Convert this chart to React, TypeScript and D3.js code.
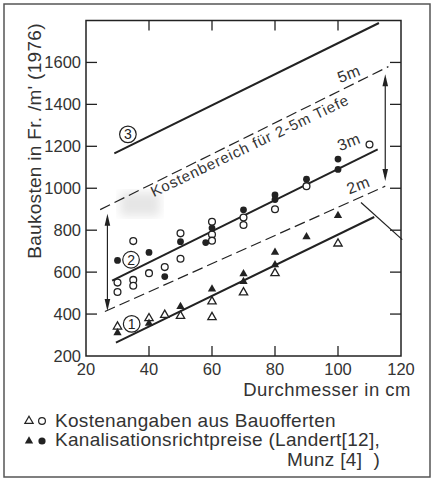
import { useEffect, useRef } from 'react';
import * as d3 from 'd3';

type Pt = [number, number];

// measured points (Durchmesser cm, Baukosten Fr./m')
const openCircles: Pt[] = [
  [30, 550], [30, 505], [35, 748], [35, 563], [35, 535], [40, 595], [45, 624],
  [50, 785], [50, 664], [60, 840], [60, 779], [60, 750], [70, 860], [70, 825],
  [80, 900], [90, 1010], [110, 1209],
];
const filledCircles: Pt[] = [
  [30, 656], [40, 694], [45, 579], [50, 745], [58, 741], [60, 810], [70, 897],
  [80, 968], [80, 946], [90, 1043], [100, 1139], [100, 1090],
];
const openTriangles: Pt[] = [
  [30, 340], [40, 380], [45, 396], [50, 391], [60, 460], [60, 385], [70, 503],
  [80, 595], [100, 736],
];
const filledTriangles: Pt[] = [
  [30, 311], [40, 356], [50, 436], [60, 519], [70, 592], [70, 555], [80, 694],
  [80, 635], [90, 768], [100, 870],
];

// regression / range lines
const line1: Pt[] = [[29.5, 264], [111.5, 863]];
const line2: Pt[] = [[28.3, 559], [112.6, 1185]];
const line3: Pt[] = [[29, 1166], [113, 1788]];
const depth5m: Pt[] = [[24.5, 898], [116, 1580]];
const depth2m: Pt[] = [[26, 412], [115, 1010]];
const pointer: Pt[] = [[107.3, 932], [120.4, 755]];

const rangeArrows = [
  { x: 26.8, y1: 415, y2: 878 },
  { x: 115, y1: 1034, y2: 1544 },
];

const depthLabels = [
  { text: '5m', x: 100.6, y: 1501 },
  { text: '3m', x: 100.6, y: 1177 },
  { text: '2m', x: 103.6, y: 970 },
];
const circledLabels = [
  { text: '1', x: 34.5, y: 353 },
  { text: '2', x: 34.3, y: 659 },
  { text: '3', x: 33.3, y: 1257 },
];
const rangeLabel = { text: 'Kostenbereich für 2-5m Tiefe', x: 41.5, y: 957, angle: -25.5 };

const xTicks = [20, 40, 60, 80, 100, 120];
const yTicks = [200, 400, 600, 800, 1000, 1200, 1400, 1600];

const FONT = "'Liberation Sans', Arial, sans-serif";
const INK = '#222';

export default function App() {
  const svgRef = useRef<SVGSVGElement>(null);

  useEffect(() => {
    if (!svgRef.current) return;
    const svg = d3.select(svgRef.current);
    svg.selectAll('*').remove();

    const x = d3.scaleLinear().domain([20, 120]).range([86, 401]);
    const y = d3.scaleLinear().domain([200, 1800]).range([356, 20.5]);

    // outer frame
    svg.append('rect')
      .attr('x', 4).attr('y', 4).attr('width', 426).attr('height', 473)
      .attr('fill', 'none').attr('stroke', '#555').attr('stroke-width', 1.5);

    // faint smudge from the scan
    const defs = svg.append('defs');
    defs.append('filter').attr('id', 'blur')
      .append('feGaussianBlur').attr('stdDeviation', 5);
    svg.append('rect')
      .attr('x', 120).attr('y', 192).attr('width', 40).attr('height', 24)
      .attr('fill', '#e6e6e6').attr('filter', 'url(#blur)');

    // plot frame
    svg.append('rect')
      .attr('x', x(20)).attr('y', y(1800))
      .attr('width', x(120) - x(20)).attr('height', y(200) - y(1800))
      .attr('fill', 'none').attr('stroke', INK).attr('stroke-width', 1.5);

    // inward ticks on all four sides
    const tickG = svg.append('g').attr('stroke', INK).attr('stroke-width', 1.3);
    xTicks.slice(1, -1).forEach((v) => {
      tickG.append('line').attr('x1', x(v)).attr('x2', x(v)).attr('y1', y(200)).attr('y2', y(200) - 10);
      tickG.append('line').attr('x1', x(v)).attr('x2', x(v)).attr('y1', y(1800)).attr('y2', y(1800) + 10);
    });
    yTicks.slice(1).forEach((v) => {
      tickG.append('line').attr('x1', x(20)).attr('x2', x(20) + 11).attr('y1', y(v)).attr('y2', y(v));
      tickG.append('line').attr('x1', x(120)).attr('x2', x(120) - 11).attr('y1', y(v)).attr('y2', y(v));
    });

    // tick labels
    svg.append('g').selectAll('text').data(yTicks).join('text')
      .attr('x', 81).attr('y', (d) => y(d)).attr('dy', '0.36em')
      .attr('text-anchor', 'end').attr('font-family', FONT).attr('font-size', 16.5)
      .attr('fill', '#333').text((d) => d);
    svg.append('g').selectAll('text').data(xTicks).join('text')
      .attr('x', (d) => x(d)).attr('y', 375)
      .attr('text-anchor', 'middle').attr('font-family', FONT).attr('font-size', 16.5)
      .attr('fill', '#333').text((d) => d);

    // axis titles
    svg.append('text')
      .attr('x', 411).attr('y', 396).attr('text-anchor', 'end')
      .attr('font-family', FONT).attr('font-size', 18.5).attr('letter-spacing', 0.5)
      .attr('fill', '#333').text('Durchmesser in cm');
    svg.append('text')
      .attr('transform', 'translate(41,141) rotate(-90)').attr('text-anchor', 'middle')
      .attr('font-family', FONT).attr('font-size', 19).attr('letter-spacing', 0.3)
      .attr('fill', '#333').text("Baukosten in Fr. /m' (1976)");

    const lineGen = d3.line<Pt>().x((d) => x(d[0])).y((d) => y(d[1]));

    // solid lines
    [line1, line2, line3].forEach((pts) => {
      svg.append('path').attr('d', lineGen(pts) || '')
        .attr('fill', 'none').attr('stroke', INK).attr('stroke-width', 2);
    });
    // dashed depth lines
    [depth5m, depth2m].forEach((pts) => {
      svg.append('path').attr('d', lineGen(pts) || '')
        .attr('fill', 'none').attr('stroke', INK).attr('stroke-width', 1.2)
        .attr('stroke-dasharray', '11,5');
    });
    svg.append('path').attr('d', lineGen(pointer) || '')
      .attr('fill', 'none').attr('stroke', INK).attr('stroke-width', 1.2);

    // double arrows
    rangeArrows.forEach((a) => {
      const ax = x(a.x);
      const top = y(a.y2);
      const bot = y(a.y1);
      svg.append('line').attr('x1', ax).attr('x2', ax).attr('y1', top + 4).attr('y2', bot - 4)
        .attr('stroke', INK).attr('stroke-width', 1.2);
      svg.append('path').attr('d', `M${ax},${top}L${ax - 2.8},${top + 12}L${ax + 2.8},${top + 12}Z`).attr('fill', INK);
      svg.append('path').attr('d', `M${ax},${bot}L${ax - 2.8},${bot - 12}L${ax + 2.8},${bot - 12}Z`).attr('fill', INK);
    });

    const angle = (Math.atan2(y(depth5m[1][1]) - y(depth5m[0][1]), x(depth5m[1][0]) - x(depth5m[0][0])) * 180) / Math.PI;

    // range label beneath the dashed line
    svg.append('text')
      .attr('transform', `translate(${x(rangeLabel.x)},${y(rangeLabel.y)}) rotate(${rangeLabel.angle})`)
      .attr('font-family', FONT).attr('font-size', 15).attr('letter-spacing', 0.9)
      .attr('fill', '#333').text(rangeLabel.text);

    depthLabels.forEach((l) => {
      svg.append('text')
        .attr('transform', `translate(${x(l.x)},${y(l.y)}) rotate(${angle * 0.8})`)
        .attr('font-family', FONT).attr('font-size', 16).attr('letter-spacing', 0.6)
        .attr('fill', '#333').text(l.text);
    });

    circledLabels.forEach((l) => {
      const g = svg.append('g').attr('transform', `translate(${x(l.x)},${y(l.y)})`);
      g.append('circle').attr('r', 8.3).attr('fill', 'white').attr('stroke', INK).attr('stroke-width', 1.2);
      g.append('text').attr('text-anchor', 'middle').attr('dy', '0.36em')
        .attr('font-family', FONT).attr('font-size', 14).attr('fill', INK).text(l.text);
    });

    // markers
    const tri = d3.symbol().type(d3.symbolTriangle).size(30)() || '';
    const markG = svg.append('g');
    markG.selectAll('.oc').data(openCircles).join('circle')
      .attr('cx', (d) => x(d[0])).attr('cy', (d) => y(d[1])).attr('r', 3.4)
      .attr('fill', 'white').attr('stroke', INK).attr('stroke-width', 1.3);
    markG.selectAll('.fc').data(filledCircles).join('circle')
      .attr('cx', (d) => x(d[0])).attr('cy', (d) => y(d[1])).attr('r', 3.4)
      .attr('fill', INK);
    markG.selectAll('.ot').data(openTriangles).join('path')
      .attr('d', tri).attr('transform', (d) => `translate(${x(d[0])},${y(d[1])})`)
      .attr('fill', 'white').attr('stroke', INK).attr('stroke-width', 1.3);
    markG.selectAll('.ft').data(filledTriangles).join('path')
      .attr('d', tri).attr('transform', (d) => `translate(${x(d[0])},${y(d[1])})`)
      .attr('fill', INK);

    // legend
    const leg = svg.append('g');
    leg.append('path').attr('d', tri).attr('transform', 'translate(29,421)')
      .attr('fill', 'white').attr('stroke', INK).attr('stroke-width', 1.2);
    leg.append('circle').attr('cx', 42).attr('cy', 421).attr('r', 3.4)
      .attr('fill', 'white').attr('stroke', INK).attr('stroke-width', 1.2);
    leg.append('path').attr('d', tri).attr('transform', 'translate(29,441)').attr('fill', INK);
    leg.append('circle').attr('cx', 42).attr('cy', 441).attr('r', 3.6).attr('fill', INK);
    const legText = [
      { t: 'Kostenangaben aus Bauofferten', x: 55, y: 427 },
      { t: 'Kanalisationsrichtpreise (Landert[12],', x: 55, y: 446 },
      { t: 'Munz [4]  )', x: 287, y: 466 },
    ];
    legText.forEach((l) => {
      leg.append('text').attr('x', l.x).attr('y', l.y)
        .attr('font-family', FONT).attr('font-size', 19).attr('letter-spacing', 0.3)
        .attr('fill', '#333').style('white-space', 'pre').text(l.t);
    });
  }, []);

  return (
    <svg
      ref={svgRef}
      width={432}
      height={481}
      viewBox="0 0 432 481"
      style={{ position: 'absolute', left: 0, top: 0, background: 'white' }}
    />
  );
}
